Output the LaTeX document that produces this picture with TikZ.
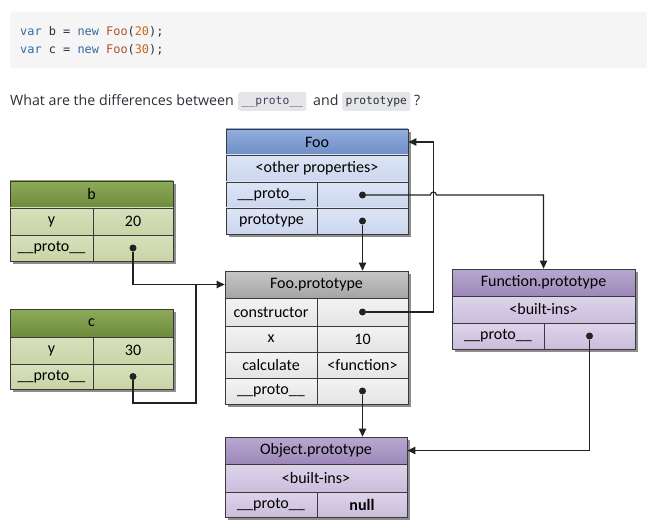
\documentclass[tikz,border=0pt]{standalone}
\usepackage{fontspec}
\setmainfont{Open Sans}
\newfontfamily\cellfont{Carlito}
\newfontfamily\codefont{DejaVu Sans Mono}
\usetikzlibrary{arrows.meta}

% palette
\definecolor{codebg}{HTML}{F5F5F5}
\definecolor{inlinebg}{HTML}{E4E6E8}
\definecolor{kwblue}{HTML}{2F6BA3}
\definecolor{fnred}{HTML}{B3502E}
\definecolor{numorange}{HTML}{C4681E}
\definecolor{ink}{HTML}{2B2F38}
\definecolor{protoink}{HTML}{4A3C6A}
\definecolor{edge}{HTML}{3A3A3A}
\definecolor{wire}{HTML}{222222}
\definecolor{shadowc}{HTML}{8E8E8E}
\definecolor{blueTop}{HTML}{93AEDC}\definecolor{blueBot}{HTML}{6E8EC8}
\definecolor{blueRowT}{HTML}{DDE5F5}\definecolor{blueRowB}{HTML}{CBD6EE}
\definecolor{greenTop}{HTML}{8EAB59}\definecolor{greenBot}{HTML}{6D8A3D}
\definecolor{greenRowT}{HTML}{D8E0BC}\definecolor{greenRowB}{HTML}{C9D4A6}
\definecolor{grayTop}{HTML}{C6C6C6}\definecolor{grayBot}{HTML}{A5A5A5}
\definecolor{grayRowT}{HTML}{F3F3F3}\definecolor{grayRowB}{HTML}{E4E4E4}
\definecolor{purpTop}{HTML}{B8A8D0}\definecolor{purpBot}{HTML}{9C88B8}
\definecolor{purpRowT}{HTML}{DDD4EA}\definecolor{purpRowB}{HTML}{CABDDC}

\tikzset{
  cell/.style={draw=edge, line width=0.8pt, inner sep=0pt, rectangle,
    font=\cellfont\fontsize{16}{19}\selectfont, text=black},
  bluehead/.style={cell, top color=blueTop, bottom color=blueBot},
  bluerow/.style={cell, top color=blueRowT, bottom color=blueRowB},
  greenhead/.style={cell, top color=greenTop, bottom color=greenBot},
  greenrow/.style={cell, top color=greenRowT, bottom color=greenRowB},
  grayhead/.style={cell, top color=grayTop, bottom color=grayBot},
  grayrow/.style={cell, top color=grayRowT, bottom color=grayRowB},
  purphead/.style={cell, top color=purpTop, bottom color=purpBot},
  purprow/.style={cell, top color=purpRowT, bottom color=purpRowB},
  tshadow/.style={fill=shadowc},
  dotn/.style={circle, fill=wire, inner sep=0pt, minimum size=7pt},
  wirel/.style={draw=wire, line width=1.15pt},
  arrowl/.style={wirel, -{Triangle[length=8pt,width=7.5pt]}},
  codeline/.style={anchor=base west, inner sep=0pt,
    font=\codefont\fontsize{11.9}{14}\selectfont, text=ink},
  prose/.style={anchor=base west, inner sep=0pt,
    font=\fontsize{14.2}{18}\selectfont, text=ink},
  inlinecode/.style={fill=inlinebg, rounded corners=2.5pt, inner xsep=3.5pt,
    inner ysep=0pt, minimum height=19pt, text=protoink,
    font=\codefont\fontsize{11.3}{14}\selectfont}
}

% cell: style, name, x1, y1, x2, y2, text
\newcommand\tcell[7]{%
  \node[#1, minimum width={(#5)-(#3)}, minimum height={(#6)-(#4)}]
    (#2) at ({((#3)+(#5))/2},{((#4)+(#6))/2}) {#7};}
% shadow behind a table: x1, y1, x2, y2
\newcommand\tshade[4]{\fill[tshadow] ({#1+3},{#2+3}) rectangle ({#3+3},{#4+3});}

\begin{document}
\begin{tikzpicture}[x=1pt, y=-1pt]
\useasboundingbox (0,0) rectangle (647,529);
\fill[white] (0,0) rectangle (647,529);

% code sample
\fill[codebg, rounded corners=4pt] (10,12) rectangle (655,68);
\node[codeline] (code1) at (20,36) {\textcolor{kwblue}{var} b = \textcolor{kwblue}{new} \textcolor{fnred}{Foo}(\textcolor{numorange}{20});};
\node[codeline] (code2) at (20,54) {\textcolor{kwblue}{var} c = \textcolor{kwblue}{new} \textcolor{fnred}{Foo}(\textcolor{numorange}{30});};

% question line
\node[prose] (q1) at (10,106) {What are the differences between};
\node[inlinecode, anchor=west] (q2) at (238,101.5) {\_\_proto\_\_};
\node[prose] (q3) at (313,106) {and};
\node[inlinecode, anchor=west, text=ink] (q4) at (342,101.5) {prototype};
\node[prose] (q5) at (414,106) {?};

% Foo
\tshade{226}{129}{408}{234}
\tcell{bluehead}{fooHdr}{226}{129}{408}{155}{Foo}
\tcell{bluerow}{fooOther}{226}{155}{408}{182}{<other properties>}
\tcell{bluerow}{fooProtoK}{226}{182}{317}{208}{\_\_proto\_\_}
\tcell{bluerow}{fooProtoV}{317}{182}{408}{208}{}
\tcell{bluerow}{fooPrK}{226}{208}{317}{234}{prototype}
\tcell{bluerow}{fooPrV}{317}{208}{408}{234}{}

% b
\tshade{10}{181}{173}{261}
\tcell{greenhead}{bHdr}{10}{181}{173}{208}{b}
\tcell{greenrow}{bYK}{10}{208}{93}{235}{y}
\tcell{greenrow}{bYV}{93}{208}{173}{235}{20}
\tcell{greenrow}{bProtoK}{10}{235}{93}{261}{\_\_proto\_\_}
\tcell{greenrow}{bProtoV}{93}{235}{173}{261}{}

% c
\tshade{10}{309}{173}{389}
\tcell{greenhead}{cHdr}{10}{309}{173}{337}{c}
\tcell{greenrow}{cYK}{10}{337}{93}{364}{y}
\tcell{greenrow}{cYV}{93}{337}{173}{364}{30}
\tcell{greenrow}{cProtoK}{10}{364}{93}{389}{\_\_proto\_\_}
\tcell{greenrow}{cProtoV}{93}{364}{173}{389}{}

% Foo.prototype
\tshade{225}{271}{408}{404}
\tcell{grayhead}{fpHdr}{225}{271}{408}{298}{Foo.prototype}
\tcell{grayrow}{fpCtorK}{225}{298}{317}{326}{constructor}
\tcell{grayrow}{fpCtorV}{317}{298}{408}{326}{}
\tcell{grayrow}{fpXK}{225}{326}{317}{352}{x}
\tcell{grayrow}{fpXV}{317}{326}{408}{352}{10}
\tcell{grayrow}{fpCalcK}{225}{352}{317}{378}{calculate}
\tcell{grayrow}{fpCalcV}{317}{352}{408}{378}{<function>}
\tcell{grayrow}{fpProtoK}{225}{378}{317}{404}{\_\_proto\_\_}
\tcell{grayrow}{fpProtoV}{317}{378}{408}{404}{}

% Function.prototype
\tshade{452}{269}{635}{349}
\tcell{purphead}{fnHdr}{452}{269}{635}{296}{Function.prototype}
\tcell{purprow}{fnBuilt}{452}{296}{635}{323}{<built-ins>}
\tcell{purprow}{fnProtoK}{452}{323}{544}{349}{\_\_proto\_\_}
\tcell{purprow}{fnProtoV}{544}{323}{635}{349}{}

% Object.prototype
\tshade{225}{437}{407}{517}
\tcell{purphead}{objHdr}{225}{437}{407}{464}{Object.prototype}
\tcell{purprow}{objBuilt}{225}{464}{407}{492}{<built-ins>}
\tcell{purprow}{objProtoK}{225}{492}{317}{517}{\_\_proto\_\_}
\tcell{purprow}{objProtoV}{317}{492}{407}{517}{\textbf{null}}

% reference dots
\node[dotn] (fooProtoDot) at (fooProtoV.center) {};
\node[dotn] (fooPrDot) at (fooPrV.center) {};
\node[dotn] (bDot) at (bProtoV.center) {};
\node[dotn] (cDot) at (cProtoV.center) {};
\node[dotn] (ctorDot) at (fpCtorV.center) {};
\node[dotn] (fpProtoDot) at (fpProtoV.center) {};
\node[dotn] (fnProtoDot) at (fnProtoV.center) {};

% routing points
\coordinate (ctorRail) at ([xshift=25pt]fooHdr.east);
\coordinate (hop) at (ctorRail |- fooProtoDot);
\coordinate (cTurn) at (196,403);
\coordinate (junction) at (cTurn |- fpHdr.west);

% connectors
\draw[arrowl] (ctorDot) -| (ctorRail) -- (fooHdr.east);
\draw[arrowl] (fooProtoDot) -- ([xshift=-3pt]hop)
  arc[start angle=180, end angle=0, radius=3pt]
  -- (fnHdr.north |- fooProtoDot) -- (fnHdr.north);
\draw[arrowl] (fooPrDot) -- (fooPrDot |- fpHdr.north);
\draw[arrowl] (bDot) |- (fpHdr.west);
\draw[wirel] (cDot) |- (cTurn) -- (junction);
\draw[arrowl] (fpProtoDot) -- (fpProtoDot |- objHdr.north);
\draw[arrowl] (fnProtoDot) |- (objHdr.east);
\end{tikzpicture}
\end{document}
